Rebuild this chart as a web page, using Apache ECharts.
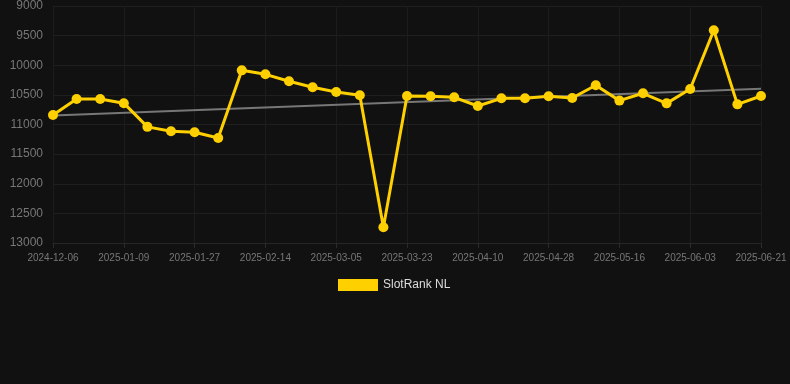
<!DOCTYPE html>
<html>
<head>
<meta charset="utf-8">
<script src="https://cdn.jsdelivr.net/npm/echarts@6/dist/echarts.min.js"></script>
<style>
html,body{margin:0;padding:0;background:#111111;}
#chart{width:790px;height:384px;}
</style>
</head>
<body>
<div id="chart"></div>
<script>
const dates = [
  "2024-12-06","2024-12-22","2025-01-03","2025-01-09","2025-01-15","2025-01-21",
  "2025-01-27","2025-02-02","2025-02-08","2025-02-14","2025-02-20","2025-02-26",
  "2025-03-05","2025-03-11","2025-03-17","2025-03-23","2025-03-29","2025-04-04",
  "2025-04-10","2025-04-16","2025-04-22","2025-04-28","2025-05-04","2025-05-10",
  "2025-05-16","2025-05-22","2025-05-28","2025-06-03","2025-06-09","2025-06-15",
  "2025-06-21"
];
const rankValues = [
  10840, 10570, 10570, 10640, 11040, 11115, 11132, 11228, 10086, 10153, 10271,
  10372, 10451, 10507, 12735, 10519, 10524, 10541, 10688, 10558, 10558, 10524,
  10553, 10338, 10597, 10473, 10643, 10401, 9410, 10660, 10519
];
const trendStart = 10850;
const trendEnd = 10395;
const yTicks = { min: 9000, max: 13000, interval: 500 };

const trendData = dates.map((d, i) => i === 0 ? trendStart : (i === dates.length - 1 ? trendEnd : null));

const chart = echarts.init(document.getElementById('chart'), null, { renderer: 'canvas' });
chart.setOption({
  backgroundColor: '#111111',
  animation: false,
  grid: { left: 53, right: 29, top: 6, bottom: 141, containLabel: false },
  legend: {
    data: [{ name: 'SlotRank NL' }],
    top: 274,
    left: 333,
    itemWidth: 40,
    itemHeight: 12,
    itemGap: 10,
    icon: 'rect',
    textStyle: { color: '#dddddd', fontSize: 12, fontFamily: 'Liberation Sans, Arial, sans-serif' }
  },
  xAxis: {
    type: 'category',
    data: dates,
    boundaryGap: false,
    axisLine: { show: true, lineStyle: { color: '#262626' } },
    axisTick: { show: true, interval: 2, alignWithLabel: true, lineStyle: { color: '#2a2a2a' } },
    axisLabel: { interval: 2, color: '#777777', fontSize: 10, margin: 10, fontFamily: 'Liberation Sans, Arial, sans-serif' },
    splitLine: { show: true, interval: 2, lineStyle: { color: '#1c1c1c' } }
  },
  yAxis: {
    type: 'value',
    inverse: true,
    min: yTicks.min,
    max: yTicks.max,
    interval: yTicks.interval,
    axisLine: { show: false },
    axisTick: { show: false },
    axisLabel: {
      color: '#777777', fontSize: 12, margin: 10,
      fontFamily: 'Liberation Sans, Arial, sans-serif',
      formatter: v => String(v)
    },
    splitLine: { show: true, lineStyle: { color: '#1f1f1f' } }
  },
  series: [
    {
      name: 'Trend',
      type: 'line',
      data: trendData,
      connectNulls: true,
      showSymbol: false,
      symbol: 'none',
      lineStyle: { color: '#777777', width: 2 },
      z: 1,
      silent: true
    },
    {
      name: 'SlotRank NL',
      type: 'line',
      data: rankValues,
      symbol: 'circle',
      symbolSize: 10,
      itemStyle: { color: '#FFD000' },
      lineStyle: { color: '#FFD000', width: 3 },
      z: 2
    }
  ]
});
</script>
</body>
</html>
